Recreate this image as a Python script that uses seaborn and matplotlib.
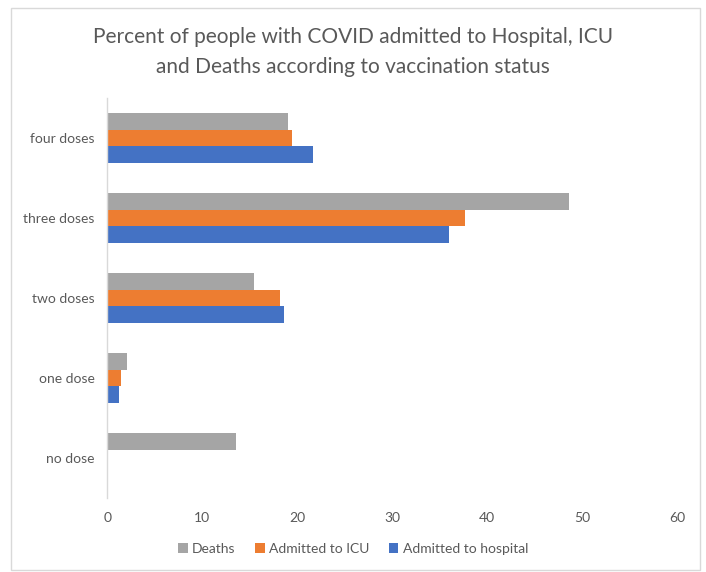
import numpy as np
import pandas as pd
import matplotlib
matplotlib.use("Agg")
import matplotlib.pyplot as plt
from matplotlib.patches import Rectangle
import seaborn as sns

# values (percent)
categories = ["four doses", "three doses", "two doses", "one dose", "no dose"]
deaths = [19.0, 48.6, 15.5, 2.1, 13.5]
icu = [19.5, 37.7, 18.2, 1.4, 0.0]
hospital = [21.7, 36.0, 18.6, 1.2, 0.0]
series_names = ["Deaths", "Admitted to ICU", "Admitted to hospital"]
series_colors = ["#A5A5A5", "#ED7D31", "#4472C4"]
x_ticks = [0, 10, 20, 30, 40, 50, 60]

TEXT = "#595959"


def main():
    sns.set_style("white")
    plt.rcParams["font.family"] = ["Lato", "DejaVu Sans"]

    df = pd.DataFrame({
        "status": categories * 3,
        "series": np.repeat(series_names, len(categories)),
        "value": deaths + icu + hospital,
    })

    fig = plt.figure(figsize=(7.06, 5.72), dpi=100)
    ax = fig.add_axes([0.152, 0.129, 0.807, 0.700])

    sns.barplot(
        data=df, x="value", y="status", hue="series",
        order=categories, hue_order=series_names,
        palette=series_colors, orient="h", width=0.62,
        saturation=1, errorbar=None, linewidth=0, ax=ax, legend=True,
    )

    ax.set_xlim(0, 60)
    ax.set_xticks(x_ticks)
    ax.set_xlabel("")
    ax.set_ylabel("")
    ax.tick_params(axis="both", length=0, colors=TEXT, labelsize=10)
    ax.tick_params(axis="y", pad=9)
    ax.tick_params(axis="x", pad=10)
    for side in ["top", "right", "bottom"]:
        ax.spines[side].set_visible(False)
    ax.spines["left"].set_color("#D9D9D9")
    ax.spines["left"].set_linewidth(1)

    handles, labels = ax.get_legend_handles_labels()
    ax.get_legend().remove()
    fig.legend(
        handles, labels, loc="center", bbox_to_anchor=(0.5, 1 - 549 / 572),
        ncol=3, frameon=False, fontsize=10, labelcolor=TEXT,
        handlelength=0.7, handleheight=0.7, handletextpad=0.3,
        columnspacing=1.4,
    )

    fig.text(
        0.5, 1 - 52 / 572,
        "Percent of people with COVID admitted to Hospital, ICU\n"
        "and Deaths according to vaccination status",
        ha="center", va="center", fontsize=15, color=TEXT, linespacing=1.6,
    )

    # chart frame like the spreadsheet chart area
    fig.patches.append(Rectangle(
        (0.015, 0.003), 0.977, 0.983, transform=fig.transFigure,
        fill=False, edgecolor="#D9D9D9", linewidth=1,
    ))

    fig.savefig("out.png", dpi=100)
    plt.close(fig)


if __name__ == "__main__":
    main()
